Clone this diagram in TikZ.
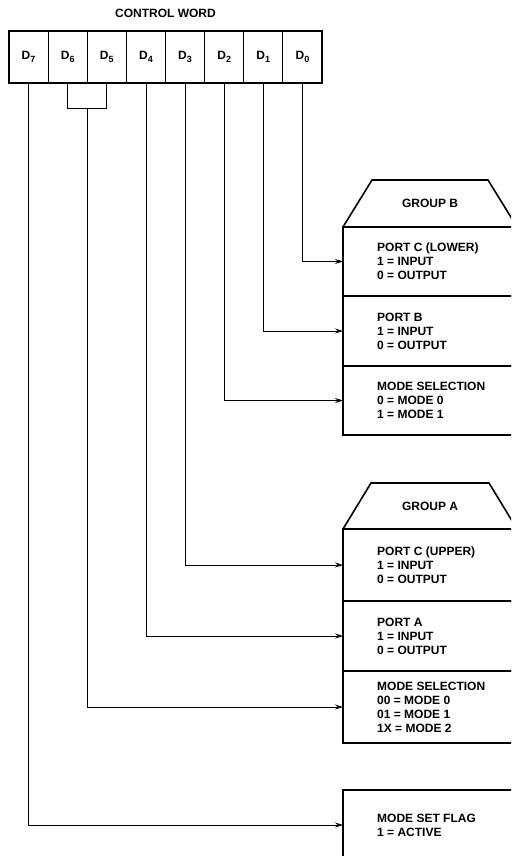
\documentclass[tikz,border=0pt]{standalone}
\usepackage{fontspec}
\setmainfont{Liberation Sans}
\usetikzlibrary{arrows.meta, positioning, calc}

\newcommand\wordfont{\fontsize{12}{14}\selectfont\bfseries}
\newcommand\bitname[1]{D\raisebox{-2.5pt}{\fontsize{9}{9}\selectfont #1}}

\tikzset{
  bit/.style={draw, line width=0.8pt, minimum width=39.125pt, minimum height=52pt,
              inner sep=0pt, outer sep=0pt, font=\wordfont},
  field/.style={draw, line width=1.6pt, minimum width=174pt, inner sep=0pt, outer sep=0pt},
  fieldtext/.style={align=left, inner sep=0pt, font=\wordfont},
  border/.style={line width=1.6pt, line join=miter},
  wire/.style={line width=0.8pt},
  feed/.style={wire, -{Stealth[length=8pt, width=5pt]}},
}

\begin{document}
\begin{tikzpicture}[x=1pt, y=-1pt]

\useasboundingbox (0,0) rectangle (511,856);
\clip (0,0) rectangle (511,856);

% -- Control word register ---------------------------------------------------
\foreach \b [count=\i from 0] in {7,...,0}
  \node[bit] (d\b) at ({9+39.125*(\i+0.5)},57) {\bitname{\b}};
\draw[border] (d7.north west) rectangle (d0.south east);
\coordinate (regtop) at ($(d7.north west)!0.5!(d0.north east)$);
\node[fieldtext, above=13pt of regtop] (cw) {CONTROL WORD};

% -- Group B -----------------------------------------------------------------
\node[field, minimum height=69pt, anchor=north west] (pcl) at (343,227) {};
\node[field, minimum height=70pt, below=0pt of pcl] (pb) {};
\node[field, minimum height=69pt, below=0pt of pb] (msb) {};
\draw[border] (pcl.north west) -- ++(29,-47) -- ++(116,0) -- (pcl.north east);
\node[fieldtext] (gb) at ($(pcl.north)+(0,-23.5)$) {GROUP B};

\node[fieldtext, right=34pt of pcl.west] (pcltxt) {PORT C (LOWER)\\1 = INPUT\\0 = OUTPUT};
\node[fieldtext, right=34pt of pb.west] (pbtxt) {PORT B\\1 = INPUT\\0 = OUTPUT};
\node[fieldtext, right=34pt of msb.west] (msbtxt) {MODE SELECTION\\0 = MODE 0\\1 = MODE 1};

% -- Group A -----------------------------------------------------------------
\node[field, minimum height=72pt, anchor=north west] (pcu) at (343,529) {};
\node[field, minimum height=70pt, below=0pt of pcu] (pa) {};
\node[field, minimum height=72pt, below=0pt of pa] (msa) {};
\draw[border] (pcu.north west) -- ++(28,-46) -- ++(118,0) -- (pcu.north east);
\node[fieldtext] (ga) at ($(pcu.north)+(0,-23)$) {GROUP A};

\node[fieldtext, right=34pt of pcu.west] (pcutxt) {PORT C (UPPER)\\1 = INPUT\\0 = OUTPUT};
\node[fieldtext, right=34pt of pa.west] (patxt) {PORT A\\1 = INPUT\\0 = OUTPUT};
\node[fieldtext, right=34pt of msa.west] (msatxt) {MODE SELECTION\\00 = MODE 0\\01 = MODE 1\\1X = MODE 2};

% -- Mode set flag -----------------------------------------------------------
\node[field, minimum height=70pt, anchor=north west] (msf) at (343,790) {};
\node[fieldtext, right=34pt of msf.west] (msftxt) {MODE SET FLAG\\1 = ACTIVE};

% -- Bit connections ---------------------------------------------------------
\draw[feed] (d0.south) |- (pcl.west);
\draw[feed] (d1.south) |- (pb.west);
\draw[feed] (d2.south) |- (msb.west);
\draw[feed] (d3.south) |- (pcu.west);
\draw[feed] (d4.south) |- (pa.west);
\draw[wire] (d6.south) -- ++(0,25) -| (d5.south);
\coordinate (d65) at ($(d6.south)!0.5!(d5.south)+(0,25)$);
\draw[feed] (d65) |- (msa.west);
\draw[feed] (d7.south) |- (msf.west);

\end{tikzpicture}
\end{document}
